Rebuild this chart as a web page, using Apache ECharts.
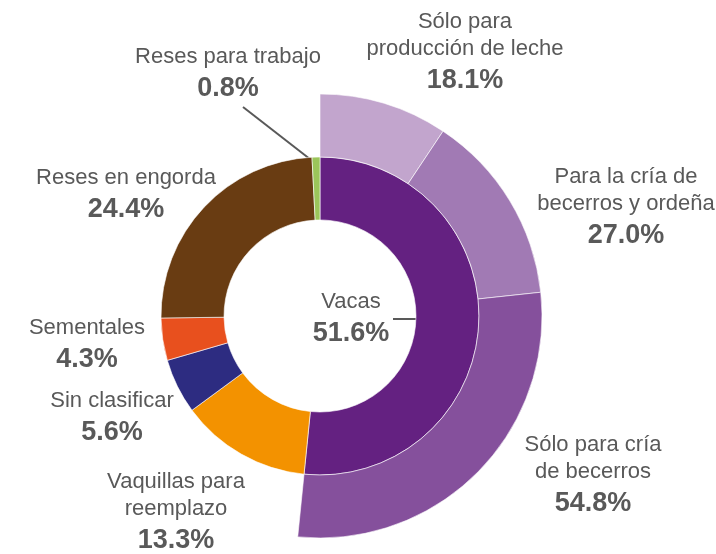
<!DOCTYPE html>
<html>
<head>
<meta charset="utf-8">
<script src="https://cdn.jsdelivr.net/npm/echarts@6/dist/echarts.min.js"></script>
<style>
  html, body { margin: 0; padding: 0; background: #fff; }
  #chart { width: 716px; height: 554px; }
</style>
</head>
<body>
<div id="chart"></div>
<script>
// inner ring: total inventory by type
const innerNames = ["Vacas", "Vaquillas para\nreemplazo", "Sin clasificar", "Sementales", "Reses en engorda", "Reses para trabajo"];
const innerValues = [51.6, 13.3, 5.6, 4.3, 24.4, 0.8];
const innerColors = ["#642181", "#F39200", "#2D2C81", "#E8501E", "#693C12", "#9BC55A"];

// outer ring: split of "Vacas"
const outerNames = ["Sólo para\nproducción de leche", "Para la cría de\nbecerros y ordeña", "Sólo para cría\nde becerros"];
const outerValues = [18.1, 27.0, 54.8];
const outerColors = ["#C2A5CD", "#A17AB4", "#85509C"];

// label block centers (layout only)
const innerLabelPos = [[351, 320], [176, 514], [112, 419], [87, 346], [126, 196], [228, 75]];
const outerLabelPos = [[465, 54], [626, 209], [593, 477]];

const chart = echarts.init(document.getElementById("chart"));
const cx = 320, cy = 316;
const vacasAngle = innerValues[0] / innerValues.reduce((a, b) => a + b, 0) * 360;

const fmt = (p) => {
  return "{n|" + p.name.split("\n").join("}\n{n|") + "}\n{p|" + p.value.toFixed(1) + "%}";
};

const labelStyle = {
  show: true,
  position: "outside",
  formatter: fmt,
  rich: {
    n: { fontFamily: "Liberation Sans", fontSize: 22, color: "#595959", lineHeight: 27, align: "center" },
    p: { fontFamily: "Liberation Sans", fontSize: 27, fontWeight: "bold", color: "#595959", lineHeight: 37, align: "center" }
  }
};

const lineStyle = { color: "#595959", width: 2 };

chart.setOption({
  animation: false,
  backgroundColor: "#fff",
  series: [
    {
      type: "pie",
      center: [cx, cy],
      radius: [96, 159],
      startAngle: 90,
      clockwise: true,
      avoidLabelOverlap: false,
      itemStyle: { borderColor: "#fff", borderWidth: 0.6 },
      label: labelStyle,
      labelLine: { show: true, lineStyle: lineStyle },
      labelLayout: (params) => {
        const pos = innerLabelPos[params.dataIndex];
        const res = { x: pos[0], y: pos[1], align: "center", verticalAlign: "middle" };
        if (params.dataIndex === 0) {
          res.labelLinePoints = [[cx + 96, 319], [393, 319], [393, 319]];
        } else if (params.dataIndex === 5) {
          res.labelLinePoints = [[315, 163], [243, 107], [243, 107]];
        }
        return res;
      },
      data: innerNames.map((name, i) => ({
        name: name,
        value: innerValues[i],
        itemStyle: { color: innerColors[i] },
        labelLine: { show: i === 0 || i === 5, lineStyle: lineStyle }
      }))
    },
    {
      type: "pie",
      center: [cx, cy],
      radius: [159, 222],
      startAngle: 90,
      endAngle: 90 - vacasAngle,
      clockwise: true,
      avoidLabelOverlap: false,
      itemStyle: { borderColor: "#fff", borderWidth: 0.6 },
      label: labelStyle,
      labelLine: { show: false },
      labelLayout: (params) => {
        const pos = outerLabelPos[params.dataIndex];
        return { x: pos[0], y: pos[1], align: "center", verticalAlign: "middle" };
      },
      data: outerNames.map((name, i) => ({
        name: name,
        value: outerValues[i],
        itemStyle: { color: outerColors[i] }
      }))
    }
  ]
});
</script>
</body>
</html>
